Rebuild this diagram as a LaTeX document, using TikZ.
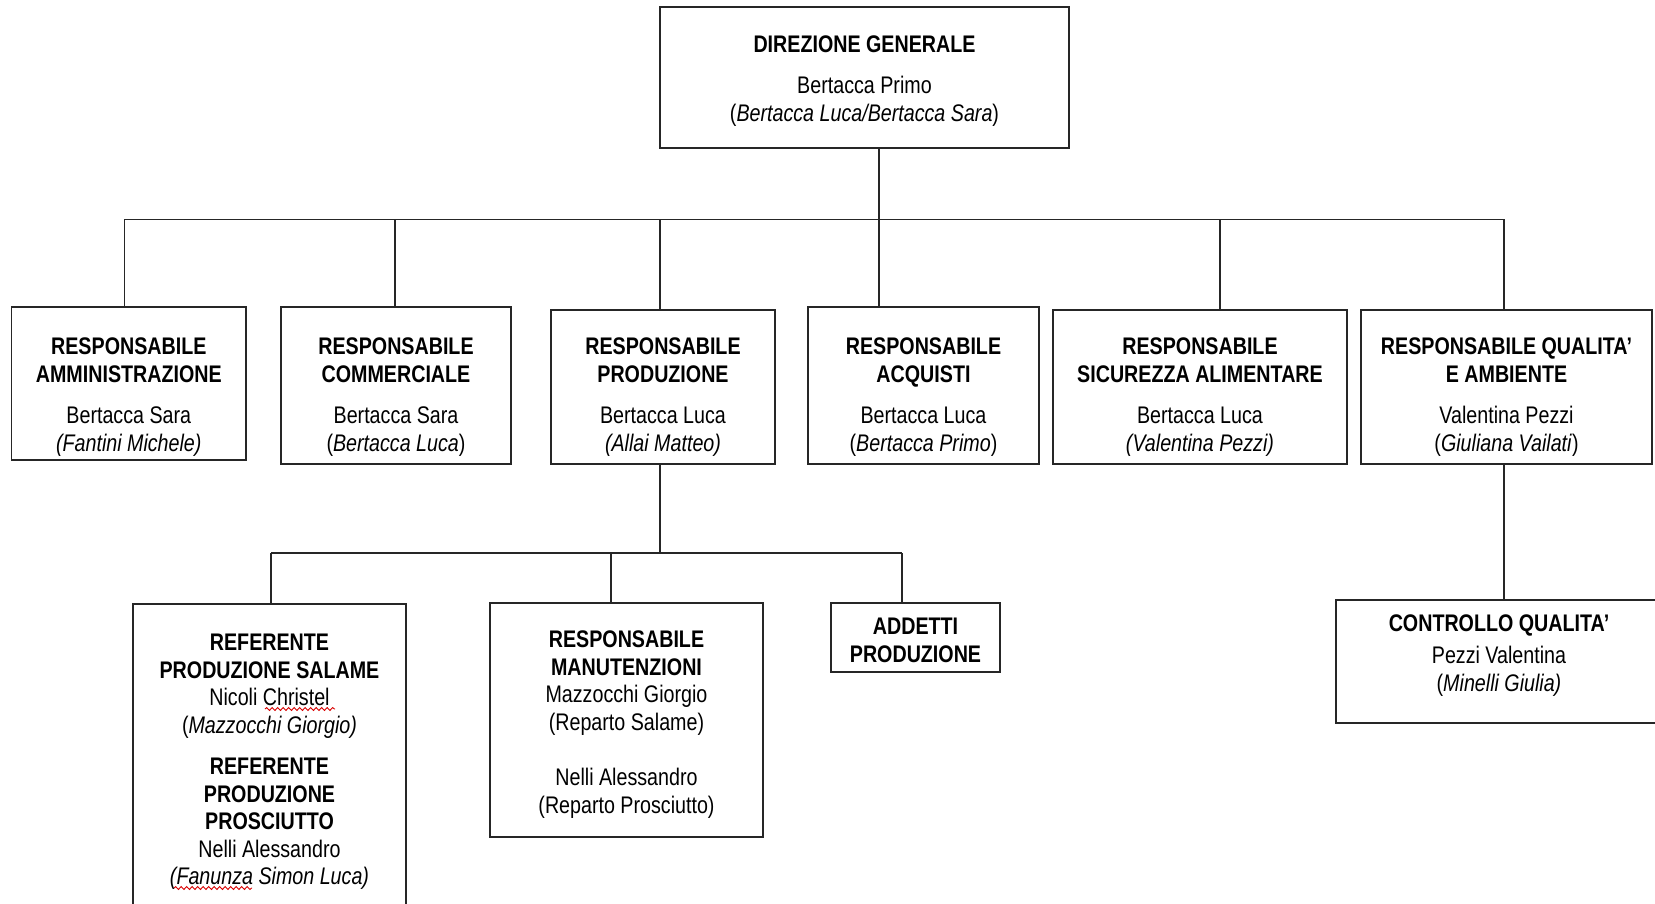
\documentclass[tikz,border=0pt]{standalone}
\usepackage{fontspec}
\setmainfont[FakeStretch=0.82]{Liberation Sans}
\usetikzlibrary{decorations.pathmorphing}
\begin{document}
\begin{tikzpicture}[x=1pt,y=-1pt,
  box/.style={draw=black!85, line width=1.1pt, inner sep=0pt, outer sep=0pt},
  txt/.style={align=center, inner sep=0pt, anchor=north, font=\fontsize{24}{27.6}\selectfont},
  wire/.style={draw=black!85, line width=1.1pt},
  spell/.style={draw=red!85!black, line width=0.9pt, decorate, decoration={snake, amplitude=1.4pt, segment length=5.5pt}}]
\useasboundingbox[fill=white] (0,0) rectangle (1655,904);

% boxes
\node[box, minimum width=409pt, minimum height=141pt] (top) at (864.5,77.5) {};
\node[box, minimum width=234.4pt, minimum height=153pt] (admin) at (128.8,383.5) {};
\node[box, minimum width=230pt, minimum height=157pt] (comm) at (396,385.5) {};
\node[box, minimum width=224pt, minimum height=154pt] (prod) at (663,387) {};
\node[box, minimum width=231pt, minimum height=157pt] (acq) at (923.5,385.5) {};
\node[box, minimum width=294pt, minimum height=154pt] (sic) at (1200,387) {};
\node[box, minimum width=291pt, minimum height=154pt] (qual) at (1506.5,387) {};
\node[box, minimum width=273pt, minimum height=326pt] (ref) at (269.5,767) {};
\node[box, minimum width=273pt, minimum height=234pt] (manut) at (626.5,720) {};
\node[box, minimum width=169pt, minimum height=69pt] (add) at (915.5,637.5) {};
\node[box, minimum width=344pt, minimum height=123pt] (ctrl) at (1508,661.5) {};

% texts
\node[txt] (ttop) at (864.5,35.6) {\textbf{DIREZIONE GENERALE}\\[13.6pt]Bertacca Primo\\(\textit{Bertacca Luca/Bertacca Sara})};
\node[txt] (tadmin) at (128.8,337.8) {\textbf{RESPONSABILE}\\\textbf{AMMINISTRAZIONE}\\[13.6pt]Bertacca Sara\\\textit{(Fantini Michele)}};
\node[txt] (tcomm) at (396,337.8) {\textbf{RESPONSABILE}\\\textbf{COMMERCIALE}\\[13.6pt]Bertacca Sara\\(\textit{Bertacca Luca})};
\node[txt] (tprod) at (663,337.8) {\textbf{RESPONSABILE}\\\textbf{PRODUZIONE}\\[13.6pt]Bertacca Luca\\\textit{(Allai Matteo)}};
\node[txt] (tacq) at (923.5,337.8) {\textbf{RESPONSABILE}\\\textbf{ACQUISTI}\\[13.6pt]Bertacca Luca\\(\textit{Bertacca Primo})};
\node[txt] (tsic) at (1200,337.8) {\textbf{RESPONSABILE}\\\textbf{SICUREZZA ALIMENTARE}\\[13.6pt]Bertacca Luca\\\textit{(Valentina Pezzi)}};
\node[txt] (tqual) at (1506.5,337.8) {\textbf{RESPONSABILE QUALITA’}\\\textbf{E AMBIENTE}\\[13.6pt]Valentina Pezzi\\(\textit{Giuliana Vailati})};
\node[txt] (tref) at (269.5,633.8) {\textbf{REFERENTE}\\\textbf{PRODUZIONE SALAME}\\Nicoli Christel\\(\textit{Mazzocchi Giorgio)}\\[13.6pt]\textbf{REFERENTE}\\\textbf{PRODUZIONE}\\\textbf{PROSCIUTTO}\\Nelli Alessandro\\\textit{(Fanunza Simon Luca)}};
\node[txt] (tmanut) at (626.5,630.8) {\textbf{RESPONSABILE}\\\textbf{MANUTENZIONI}\\Mazzocchi Giorgio\\(Reparto Salame)\\[27.6pt]Nelli Alessandro\\(Reparto Prosciutto)};
\node[txt] (tadd) at (915.5,617.8) {\textbf{ADDETTI}\\\textbf{PRODUZIONE}};
\node[txt] (tctrl) at (1499,614.8) {\textbf{CONTROLLO QUALITA’}\\[4.6pt]Pezzi Valentina\\(\textit{Minelli Giulia)}};

% spell-check marks
\draw[spell] (265,709) -- (335,709);
\draw[spell] (174,888) -- (252,888);

% connectors
\coordinate (jA) at (124.5,219.5);
\coordinate (jB) at (395,219.5);
\coordinate (jC) at (660,219.5);
\coordinate (jD) at (879,219.5);
\coordinate (jE) at (1220,219.5);
\coordinate (jF) at (1504,219.5);
\draw[wire] (jA) -- (jF);
\draw[wire] (top.south -| jD) -- (jD) -- (jD |- acq.north);
\draw[wire] (jA) -- (jA |- admin.north);
\draw[wire] (jB) -- (jB |- comm.north);
\draw[wire] (jC) -- (jC |- prod.north);
\draw[wire] (jE) -- (jE |- sic.north);
\draw[wire] (jF) -- (jF |- qual.north);

\coordinate (kA) at (271,553);
\coordinate (kB) at (611,553);
\coordinate (kP) at (660,553);
\coordinate (kC) at (902,553);
\draw[wire] (prod.south -| kP) -- (kP);
\draw[wire] (kA) -- (kC);
\draw[wire] (kA) -- (kA |- ref.north);
\draw[wire] (kB) -- (kB |- manut.north);
\draw[wire] (kC) -- (kC |- add.north);
\draw[wire] (qual.south -| jF) -- (jF |- ctrl.north);
\end{tikzpicture}
\end{document}
